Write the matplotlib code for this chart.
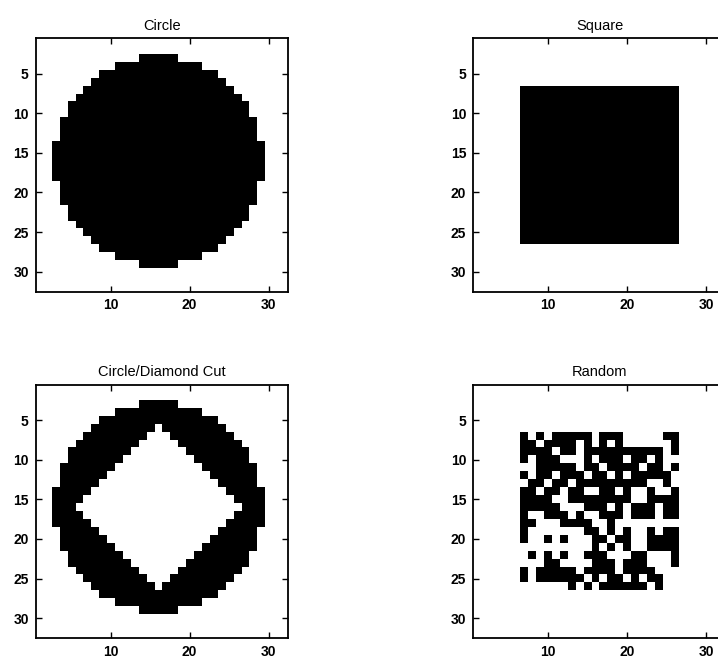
import numpy as np
import matplotlib
matplotlib.use("Agg")
import matplotlib.pyplot as plt

N = 32
center = 16
radius_sq = 174.24
diamond_half = 10
square_lo, square_hi = 7, 26

titles = ["Circle", "Square", "Circle/Diamond Cut", "Random"]
xticks = [10, 20, 30]
yticks = [5, 10, 15, 20, 25, 30]

# rows 7..26, cols 7..26, '#' = filled
random_rows = [
    "#.#.#####.###.....##",
    "##.####.#.#.#......#",
    "####.##.##########.#",
    "#.###...#.###.##.#..",
    "..#####.##.####.##.#",
    "#.##.###.##.#.#####.",
    ".##.##.#########..#.",
    "##.##.##..##.#..#..#",
    "####..########..####",
    "#####...###.#.###.##",
    "#..###.#..###.###.##",
    "##...####..#........",
    "#.......##.#.#..#.##",
    "#..#.#...##.##..####",
    ".........#.#.#..####",
    ".#.#.#..###...##...#",
    "...##....###.###...#",
    "#.#####.####.####...",
    "#.######.#.##.#.##..",
    "......#.#.######.#..",
]

r, c = np.mgrid[1:N + 1, 1:N + 1]
circle = ((r - center) ** 2 + (c - center) ** 2 <= radius_sq).astype(float)
square = ((r >= square_lo) & (r <= square_hi) & (c >= square_lo) & (c <= square_hi)).astype(float)
diamond = (np.abs(r - center) + np.abs(c - center) <= diamond_half)
cut = circle * (~diamond)
rand = np.zeros((N, N))
for i, row in enumerate(random_rows):
    for j, ch in enumerate(row):
        if ch == "#":
            rand[square_lo - 1 + i, square_lo - 1 + j] = 1

images = [circle, square, cut, rand]

W, H = 718, 662
fig = plt.figure(figsize=(W / 100, H / 100), dpi=100)
aw, ah = 252.6, 253.5
boxes = [(35.7, 38.0), (473.3, 38.0), (35.7, 384.5), (473.3, 384.5)]

for img, title, (x0, y0) in zip(images, titles, boxes):
    ax = fig.add_axes([x0 / W, 1 - (y0 + ah) / H, aw / W, ah / H])
    ax.imshow(img, cmap="gray_r", vmin=0, vmax=1, interpolation="nearest",
              extent=(0.5, N + 0.5, N + 0.5, 0.5), aspect="auto")
    ax.set_xlim(0.5, N + 0.5)
    ax.set_ylim(N + 0.5, 0.5)
    ax.set_xticks(xticks)
    ax.set_yticks(yticks)
    ax.tick_params(direction="in", length=4, width=1, top=True, right=True,
                   labelsize=10, pad=5)
    for lab in ax.get_xticklabels() + ax.get_yticklabels():
        lab.set_fontfamily("Liberation Sans")
        lab.set_fontweight("bold")
    for s in ax.spines.values():
        s.set_linewidth(1.3)
    ax.set_title(title, fontsize=10.5, fontfamily="Liberation Sans", pad=6)

fig.savefig("out.png", dpi=100)
